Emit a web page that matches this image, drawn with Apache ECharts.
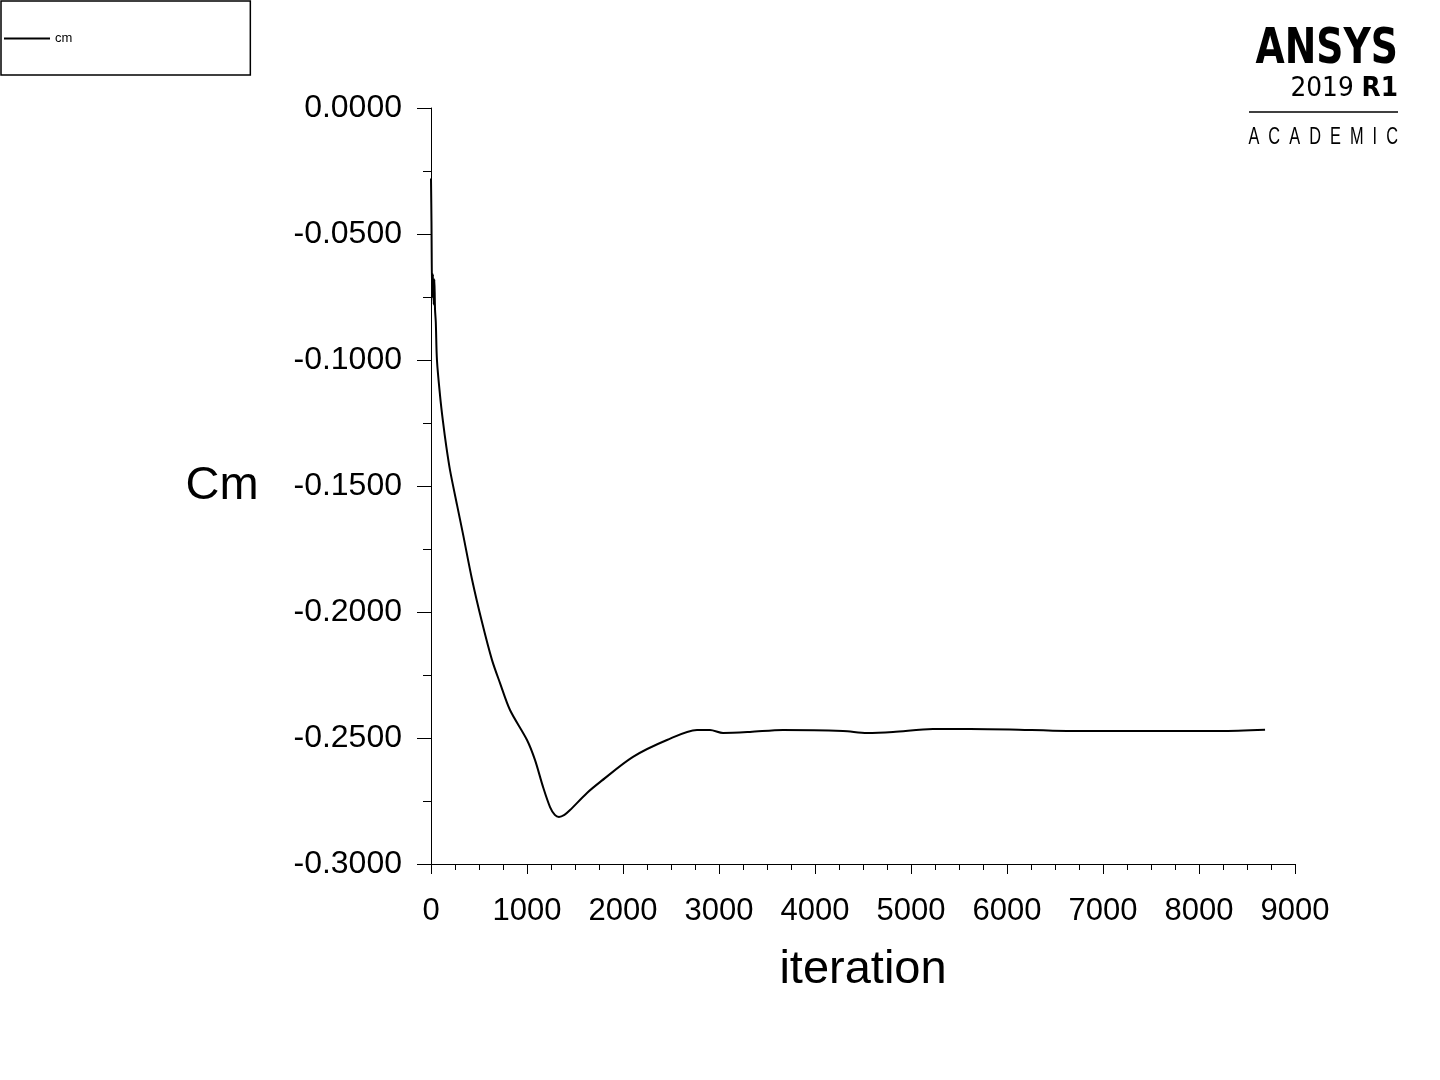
<!DOCTYPE html>
<html>
<head>
<meta charset="utf-8">
<script src="https://cdn.jsdelivr.net/npm/echarts@6/dist/echarts.min.js"></script>
<style>
html,body{margin:0;padding:0;background:#fff;}
#chart{width:1440px;height:1080px;}
</style>
</head>
<body>
<div id="chart"></div>
<script>
// Data
const iterations = [0, 5, 12, 20, 28, 35, 42, 50, 62, 94, 125, 160, 198, 271, 333, 427, 531, 635, 719, 823, 1000, 1083, 1167, 1240, 1290, 1333, 1390, 1448, 1625, 1760, 2104, 2458, 2771, 2906, 3042, 3323, 3667, 4292, 4542, 4813, 5229, 5615, 6031, 6625, 8219, 8688];
const cmValues = [-0.028, -0.045, -0.075, -0.066, -0.078, -0.068, -0.080, -0.085, -0.100, -0.114, -0.1245, -0.1345, -0.1437, -0.1575, -0.169, -0.187, -0.204, -0.2190, -0.2282, -0.2389, -0.2508, -0.2587, -0.2694, -0.2774, -0.2805, -0.2813, -0.2805, -0.2786, -0.2718, -0.2675, -0.2575, -0.2508, -0.2468, -0.2468, -0.2480, -0.2476, -0.2468, -0.2472, -0.2480, -0.2476, -0.2464, -0.2464, -0.2466, -0.2472, -0.2472, -0.2467];
const seriesName = 'cm';
const xAxisName = 'iteration';
const yAxisName = 'Cm';

const seriesData = iterations.map((it, i) => [it, cmValues[i]]);
const FONT = "'Liberation Sans', Arial, sans-serif";
const LOGO = "'DejaVu Sans', sans-serif";

const chart = echarts.init(document.getElementById('chart'), null, {renderer: 'canvas'});
chart.setOption({
  backgroundColor: '#ffffff',
  animation: false,
  legend: {
    left: 1, top: 1,
    orient: 'horizontal',
    padding: [31, 178, 30, 3],
    itemWidth: 46, itemHeight: 14, itemGap: 5,
    borderColor: '#000', borderWidth: 1.5,
    textStyle: {fontFamily: FONT, fontSize: 13, color: '#000'},
    data: [{name: seriesName, icon: 'path://M0,0 L46,0 L46,2 L0,2 Z'}]
  },
  grid: {left: 431, right: 145, top: 108, bottom: 216, containLabel: false},
  xAxis: {
    type: 'value', min: 0, max: 9000, interval: 1000,
    name: xAxisName, nameLocation: 'middle', nameGap: 106,
    nameTextStyle: {fontFamily: FONT, fontSize: 47, color: '#000', align: 'center', verticalAlign: 'middle'},
    axisLine: {show: true, onZero: false, lineStyle: {color: '#000', width: 1}},
    axisTick: {show: true, inside: false, length: 10, lineStyle: {color: '#000', width: 1}},
    minorTick: {show: true, splitNumber: 4, length: 6, lineStyle: {color: '#000', width: 1}},
    axisLabel: {fontFamily: FONT, fontSize: 31, color: '#000', margin: 32,
      formatter: v => String(v)},
    splitLine: {show: false}
  },
  yAxis: {
    type: 'value', min: -0.3, max: 0, interval: 0.05,
    name: yAxisName, nameLocation: 'middle', nameGap: 209, nameRotate: 0,
    nameTextStyle: {fontFamily: FONT, fontSize: 47, color: '#000', align: 'center', verticalAlign: 'middle'},
    axisLine: {show: true, onZero: false, lineStyle: {color: '#000', width: 1}},
    axisTick: {show: true, inside: false, length: 14, lineStyle: {color: '#000', width: 1}},
    minorTick: {show: true, splitNumber: 2, length: 8, lineStyle: {color: '#000', width: 1}},
    axisLabel: {fontFamily: FONT, fontSize: 32, color: '#000', margin: 29, padding: [4, 0, 0, 0],
      formatter: v => v.toFixed(4)},
    splitLine: {show: false}
  },
  series: [{
    name: seriesName,
    type: 'line',
    data: seriesData,
    symbol: 'none',
    smooth: 0.3,
    lineStyle: {color: '#000', width: 2},
    itemStyle: {color: '#000'}
  }],
  graphic: [
    {type: 'text', x: 1398, y: 25, scaleX: 0.755, style: {text: 'ANSYS', textAlign: 'right', fontFamily: LOGO, fontWeight: 'bold', fontSize: 50, fill: '#000'}},
    {type: 'text', x: 1398, y: 75, scaleX: 0.92, style: {text: '{n|2019 }{b|R1}', textAlign: 'right', rich: {
      n: {fontFamily: LOGO, fontSize: 27, color: '#000'},
      b: {fontFamily: LOGO, fontSize: 27, fontWeight: 'bold', color: '#000'}
    }}},
    {type: 'line', shape: {x1: 1249, y1: 112, x2: 1398, y2: 112}, style: {stroke: '#000', lineWidth: 1.5}},
    {type: 'text', x: 1398, y: 125, scaleX: 0.68, style: {text: 'A  C  A  D  E  M  I  C', textAlign: 'right', fontFamily: FONT, fontSize: 24, fill: '#000'}}
  ]
});
</script>
</body>
</html>
